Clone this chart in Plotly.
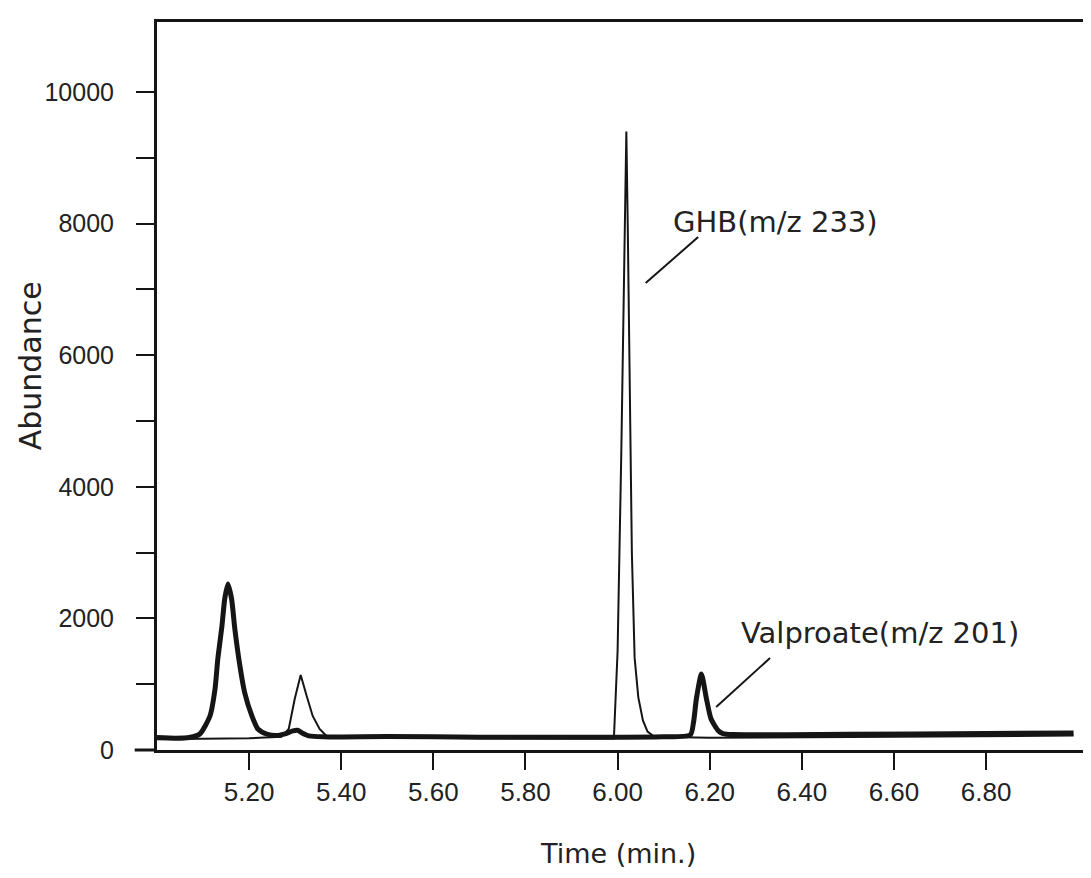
import plotly.graph_objects as go

# Thick trace (m/z 201 channel): peaks near 5.15 and 6.18 (Valproate)
t_thick = [5.00, 5.04, 5.07, 5.093, 5.115, 5.126, 5.132, 5.141, 5.147, 5.154, 5.162,
           5.169, 5.180, 5.190, 5.206, 5.219, 5.238, 5.26, 5.28, 5.295, 5.305, 5.315,
           5.33, 5.36, 5.50, 5.70, 5.90, 6.00, 6.10, 6.158, 6.165, 6.171, 6.182, 6.193,
           6.203, 6.219, 6.229, 6.25, 6.50, 6.80, 6.99]
a_thick = [190, 180, 190, 243, 517, 927, 1383, 1884, 2295, 2523, 2295,
           1839, 1277, 882, 517, 319, 243, 220, 250, 290, 300, 260,
           215, 200, 205, 195, 195, 195, 200, 230, 425, 775, 1155, 775,
           470, 290, 250, 235, 240, 250, 260]

# Thin trace (m/z 233 channel): peaks near 5.31 and 6.02 (GHB)
t_thin = [5.00, 5.10, 5.20, 5.27, 5.286, 5.299, 5.312, 5.325, 5.338, 5.353, 5.368, 5.40,
          5.60, 5.90, 5.992, 6.000, 6.008, 6.015, 6.019, 6.022, 6.026, 6.031, 6.037,
          6.045, 6.055, 6.065, 6.08, 6.20, 6.60, 6.99]
a_thin = [165, 170, 180, 200, 320, 775, 1140, 820, 517, 320, 213, 190,
          180, 175, 175, 1500, 4500, 7800, 9400, 8000, 5500, 3000, 1400,
          800, 450, 280, 200, 185, 200, 220]

x_ticks = [5.2, 5.4, 5.6, 5.8, 6.0, 6.2, 6.4, 6.6, 6.8]
x_tick_text = ["5.20", "5.40", "5.60", "5.80", "6.00", "6.20", "6.40", "6.60", "6.80"]
y_ticks = [0, 1000, 2000, 3000, 4000, 5000, 6000, 7000, 8000, 9000, 10000]
y_tick_text = ["0", "", "2000", "", "4000", "", "6000", "", "8000", "", "10000"]

ghb_label = "GHB(m/z 233)"
val_label = "Valproate(m/z 201)"

INK = "#151515"
TICKFONT = "Liberation Sans, Arial, sans-serif"
TITLEFONT = "DejaVu Sans, Verdana, sans-serif"

fig = go.Figure()
fig.add_trace(go.Scatter(x=t_thin, y=a_thin, mode="lines",
                         line=dict(color=INK, width=2), showlegend=False))
fig.add_trace(go.Scatter(x=t_thick, y=a_thick, mode="lines",
                         line=dict(color=INK, width=5, shape="spline", smoothing=0.6),
                         showlegend=False))

fig.update_layout(
    width=1083, height=870,
    margin=dict(l=149, r=2, t=14, b=128),
    paper_bgcolor="white", plot_bgcolor="white",
    showlegend=False,
    xaxis=dict(range=[5.0, 7.017], tickvals=x_ticks, ticktext=x_tick_text,
               ticks="outside", ticklen=17, tickwidth=2, tickcolor=INK,
               showline=True, linewidth=3, linecolor=INK, mirror=True,
               showgrid=False, zeroline=False,
               tickfont=dict(family=TICKFONT, size=26, color="#222")),
    yaxis=dict(range=[0, 11064], tickvals=y_ticks, ticktext=y_tick_text,
               ticks="outside", ticklen=18, tickwidth=2, tickcolor=INK,
               showline=True, linewidth=3, linecolor=INK, mirror=True,
               showgrid=False, zeroline=False, ticklabelstandoff=17,
               tickfont=dict(family=TICKFONT, size=25, color="#222")),
)

# axis titles
fig.add_annotation(text="Time (min.)", xref="paper", yref="paper",
                   x=0.496, y=-0.142, xanchor="center", yanchor="middle",
                   showarrow=False, font=dict(family=TITLEFONT, size=27, color="#222"))
fig.add_annotation(text="Abundance", xref="paper", yref="paper",
                   x=-0.136, y=0.528, xanchor="center", yanchor="middle",
                   textangle=-90, showarrow=False,
                   font=dict(family=TITLEFONT, size=30, color="#222"))

# peak labels
fig.add_annotation(text=ghb_label, x=6.342, y=8024, xanchor="center", yanchor="middle",
                   showarrow=False, font=dict(family=TITLEFONT, size=29, color="#222"))
fig.add_annotation(text=val_label, x=6.569, y=1778, xanchor="center", yanchor="middle",
                   showarrow=False, font=dict(family=TITLEFONT, size=29, color="#222"))
fig.add_shape(type="line", x0=6.175, y0=7796, x1=6.061, y1=7097,
              line=dict(color=INK, width=2))
fig.add_shape(type="line", x0=6.331, y0=1398, x1=6.214, y1=653,
              line=dict(color=INK, width=2))

# x-axis line extends left past the y-axis
fig.add_shape(type="line", xref="paper", yref="paper", x0=-0.024, x1=0, y0=0, y1=0,
              line=dict(color=INK, width=3))

fig.write_html("out.html")
